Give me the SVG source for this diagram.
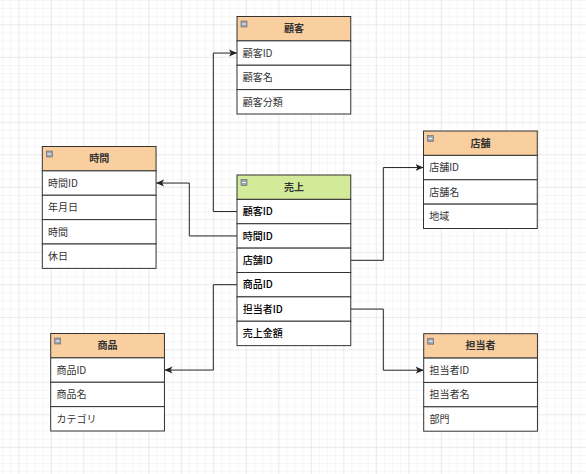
<svg xmlns="http://www.w3.org/2000/svg" width="586" height="474" viewBox="0 0 586 474">
<style>
.hdr{stroke:#333;stroke-width:1}
.orange{fill:#f9cfa0}
.green{fill:#d3eb99}
.row{fill:#fff;stroke:#333;stroke-width:1}
.ht{font-family:"Noto Sans CJK JP","Noto Sans",sans-serif;font-size:10px;font-weight:bold;fill:#333;text-anchor:middle}
.rt{font-family:"Noto Sans CJK JP","Noto Sans",sans-serif;font-size:10px;fill:#333}
.rtb{fill:#000;font-weight:500}
.icon{fill:#9aa3b3;stroke:#666;stroke-width:0.6}
.conn{fill:none;stroke:#222;stroke-width:1}
</style>
<defs>
<pattern id="minor" patternUnits="userSpaceOnUse" x="2.05" y="0" width="8.125" height="8.125">
<path d="M0,0 H8.125 M0,0 V8.125" fill="none" stroke="#eeeeee" stroke-width="1"/>
</pattern>
<pattern id="major" patternUnits="userSpaceOnUse" x="18.3" y="24.3" width="32.5" height="32.5">
<path d="M0,0 H32.5 M0,0 V32.5" fill="none" stroke="#e0e0e0" stroke-width="1"/>
</pattern>
<marker id="arr" markerUnits="userSpaceOnUse" markerWidth="10" markerHeight="10" refX="8" refY="4" orient="auto">
<path d="M0,0.5 L8,4 L0,7.5 L2,4 Z" fill="#222"/>
</marker>
<g id="ico"><rect class="icon" x="0" y="0" width="6" height="6"/><path d="M1.2,3 H4.8" stroke="#fff" stroke-width="1"/></g>
</defs>
<rect width="586" height="474" fill="#fff"/>
<rect width="586" height="474" fill="url(#minor)"/>
<rect width="586" height="474" fill="url(#major)"/>

<g id="connectors">
<path class="conn" d="M237,211.56 H213.3 V53.06 H237" marker-end="url(#arr)"/>
<path class="conn" d="M237,235.94 H189.3 V183.06 H156.1" marker-end="url(#arr)"/>
<path class="conn" d="M350.75,260.3 H383.3 V167.56 H423.5" marker-end="url(#arr)"/>
<path class="conn" d="M237,284.7 H213.3 V370.06 H164.5" marker-end="url(#arr)"/>
<path class="conn" d="M350.75,309.06 H383.3 V370.2 H423.7" marker-end="url(#arr)"/>
</g>

<g id="kokyaku" transform="translate(237,16.5)">
<rect class="hdr orange" x="0" y="0" width="113.75" height="24.375"/>
<use href="#ico" x="4" y="4.5"/>
<text class="ht" x="56.9" y="15.8">顧客</text>
<rect class="row" x="0" y="24.375" width="113.75" height="24.375"/>
<rect class="row" x="0" y="48.75" width="113.75" height="24.375"/>
<rect class="row" x="0" y="73.125" width="113.75" height="24.375"/>
<text class="rt" x="5.7" y="40.2">顧客ID</text>
<text class="rt" x="5.7" y="64.6">顧客名</text>
<text class="rt" x="5.7" y="89">顧客分類</text>
</g>

<g id="jikan" transform="translate(42.3,146.5)">
<rect class="hdr orange" x="0" y="0" width="113.75" height="24.375"/>
<use href="#ico" x="4" y="4.5"/>
<text class="ht" x="56.9" y="15.8">時間</text>
<rect class="row" x="0" y="24.375" width="113.75" height="24.375"/>
<rect class="row" x="0" y="48.75" width="113.75" height="24.375"/>
<rect class="row" x="0" y="73.125" width="113.75" height="24.375"/>
<rect class="row" x="0" y="97.5" width="113.75" height="24.375"/>
<text class="rt" x="5.7" y="40.2">時間ID</text>
<text class="rt" x="5.7" y="64.6">年月日</text>
<text class="rt" x="5.7" y="89">時間</text>
<text class="rt" x="5.7" y="113.4">休日</text>
</g>

<g id="uriage" transform="translate(237,175)">
<rect class="hdr green" x="0" y="0" width="113.75" height="24.375"/>
<use href="#ico" x="4" y="4.5"/>
<text class="ht" x="56.9" y="15.8">売上</text>
<rect class="row" x="0" y="24.375" width="113.75" height="24.375"/>
<rect class="row" x="0" y="48.75" width="113.75" height="24.375"/>
<rect class="row" x="0" y="73.125" width="113.75" height="24.375"/>
<rect class="row" x="0" y="97.5" width="113.75" height="24.375"/>
<rect class="row" x="0" y="121.875" width="113.75" height="24.375"/>
<rect class="row" x="0" y="146.25" width="113.75" height="24.375"/>
<text class="rt rtb" x="5.7" y="40.2">顧客ID</text>
<text class="rt rtb" x="5.7" y="64.6">時間ID</text>
<text class="rt rtb" x="5.7" y="89">店舗ID</text>
<text class="rt rtb" x="5.7" y="113.4">商品ID</text>
<text class="rt rtb" x="5.7" y="137.8">担当者ID</text>
<text class="rt rtb" x="5.7" y="162.2">売上金額</text>
</g>

<g id="tenpo" transform="translate(423.5,131)">
<rect class="hdr orange" x="0" y="0" width="113.75" height="24.375"/>
<use href="#ico" x="4" y="4.5"/>
<text class="ht" x="56.9" y="15.8">店舗</text>
<rect class="row" x="0" y="24.375" width="113.75" height="24.375"/>
<rect class="row" x="0" y="48.75" width="113.75" height="24.375"/>
<rect class="row" x="0" y="73.125" width="113.75" height="24.375"/>
<text class="rt" x="5.7" y="40.2">店舗ID</text>
<text class="rt" x="5.7" y="64.6">店舗名</text>
<text class="rt" x="5.7" y="89">地域</text>
</g>

<g id="shohin" transform="translate(50.7,333.5)">
<rect class="hdr orange" x="0" y="0" width="113.75" height="24.375"/>
<use href="#ico" x="4" y="4.5"/>
<text class="ht" x="56.9" y="15.8">商品</text>
<rect class="row" x="0" y="24.375" width="113.75" height="24.375"/>
<rect class="row" x="0" y="48.75" width="113.75" height="24.375"/>
<rect class="row" x="0" y="73.125" width="113.75" height="24.375"/>
<text class="rt" x="5.7" y="40.2">商品ID</text>
<text class="rt" x="5.7" y="64.6">商品名</text>
<text class="rt" x="5.7" y="89">カテゴリ</text>
</g>

<g id="tantosha" transform="translate(423.7,333.7)">
<rect class="hdr orange" x="0" y="0" width="113.75" height="24.375"/>
<use href="#ico" x="4" y="4.5"/>
<text class="ht" x="56.9" y="15.8">担当者</text>
<rect class="row" x="0" y="24.375" width="113.75" height="24.375"/>
<rect class="row" x="0" y="48.75" width="113.75" height="24.375"/>
<rect class="row" x="0" y="73.125" width="113.75" height="24.375"/>
<text class="rt" x="5.7" y="40.2">担当者ID</text>
<text class="rt" x="5.7" y="64.6">担当者名</text>
<text class="rt" x="5.7" y="89">部門</text>
</g>
</svg>
